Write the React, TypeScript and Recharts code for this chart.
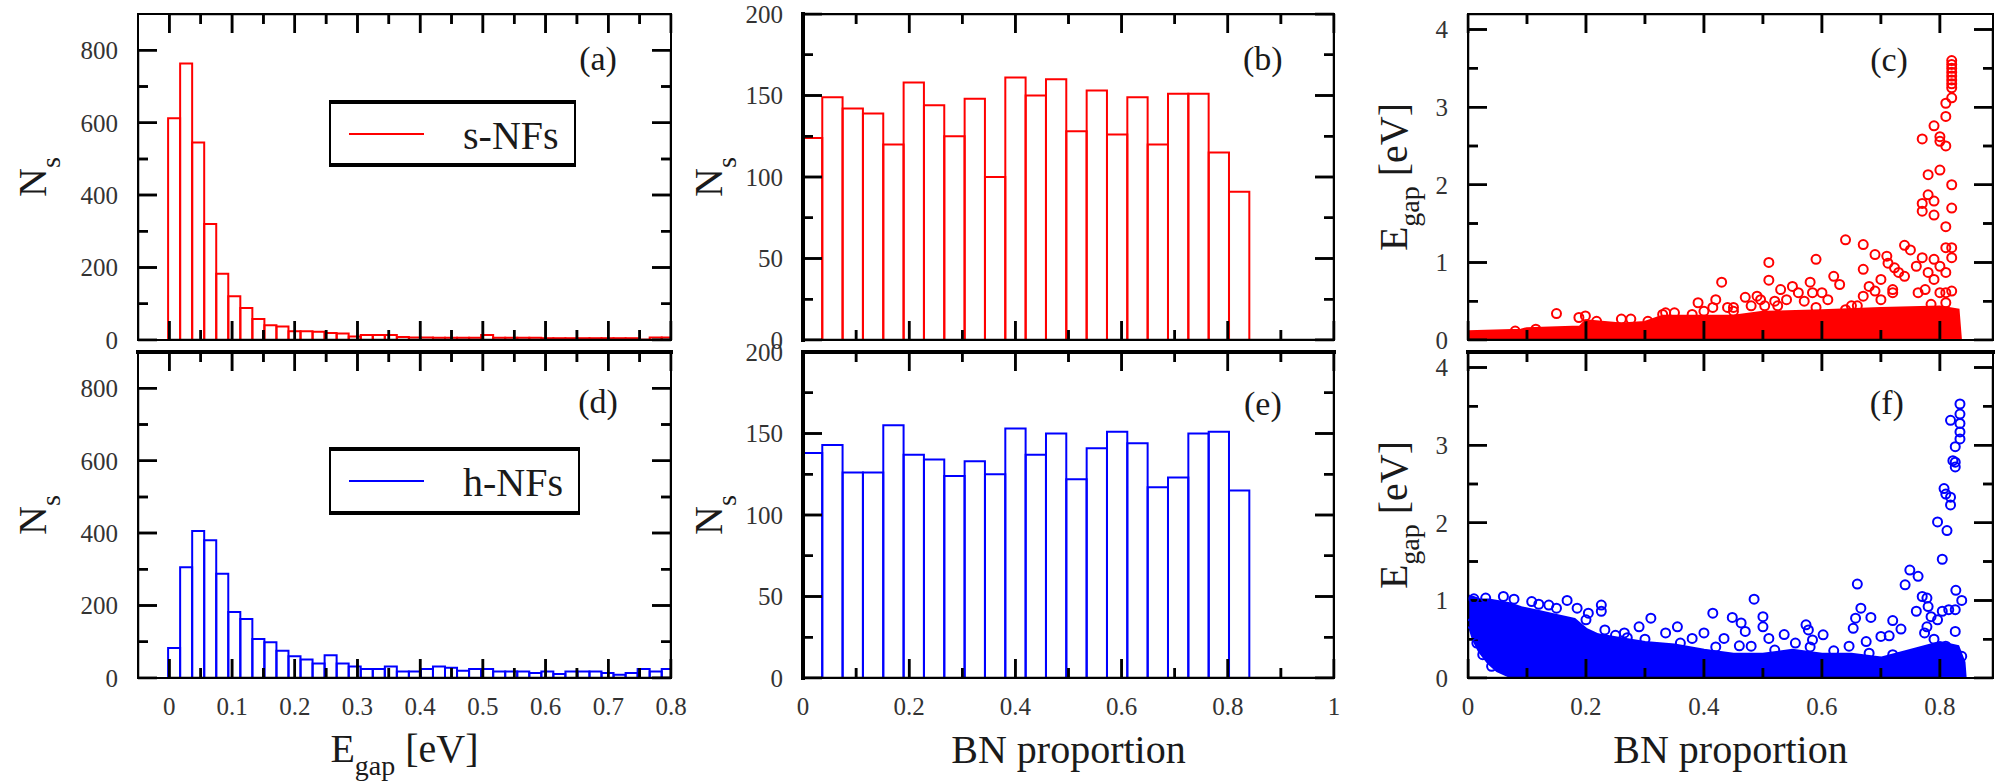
import React from 'react';
import { ComposedChart, Bar, Scatter, Area, Line, XAxis, YAxis, ReferenceDot, Legend } from 'recharts';

const FONT = 'Liberation Serif, DejaVu Serif, serif';
const RED = '#ff0000';
const BLUE = '#0000ff';
const INK = '#1a1a1a';

// ---------------- data ----------------
// (a)/(d) histograms of E_gap
const GAP_BIN_START = -0.002;
const GAP_BIN_WIDTH = 0.0192;
const GAP_COUNTS_S = [612, 763, 545, 320, 183, 121, 88, 58, 41, 37, 24, 24, 23, 19, 18, 10, 14, 14, 14, 8, 7, 7, 6, 6, 6, 6, 14, 6, 6, 6, 6, 5, 5, 5, 5, 5, 5, 5, 5, 1, 7, 7];
const GAP_COUNTS_H = [83, 306, 406, 380, 288, 182, 163, 108, 99, 75, 60, 51, 40, 63, 40, 32, 25, 25, 32, 18, 18, 25, 32, 28, 20, 25, 25, 18, 18, 18, 14, 18, 11, 18, 18, 18, 14, 9, 14, 25, 18, 25];

// (b)/(e) histograms of BN proportion
const BN_BIN_START = -0.002;
const BN_BIN_WIDTH = 0.0383;
const BN_COUNTS_S = [124, 149, 142, 139, 120, 158, 144, 125, 148, 100, 161, 150, 160, 128, 153, 126, 149, 120, 151, 151, 115, 91];
const BN_COUNTS_H = [138, 143, 126, 126, 155, 137, 134, 124, 133, 125, 153, 137, 150, 122, 141, 151, 144, 117, 123, 150, 151, 115];

// (c) s-NFs scatter: dense band (upper edge) + individual points
const BAND_C_X = [0, 0.09, 0.1, 0.19, 0.2, 0.26, 0.3, 0.33, 0.45, 0.5, 0.6, 0.7, 0.8, 0.83, 0.834];
const BAND_C_HI = [0.1, 0.12, 0.14, 0.16, 0.24, 0.2, 0.22, 0.3, 0.3, 0.35, 0.37, 0.4, 0.42, 0.38, 0];
const POINTS_C: [number, number][] = [
  [0.15, 0.34], [0.199, 0.31], [0.26, 0.27], [0.335, 0.35], [0.39, 0.48], [0.42, 0.52], [0.43, 0.745], [0.45, 0.42],
  [0.47, 0.55], [0.49, 0.565], [0.51, 1.0], [0.51, 0.77], [0.525, 0.44], [0.54, 0.52], [0.55, 0.69], [0.56, 0.61],
  [0.58, 0.745], [0.584, 0.61], [0.59, 1.04], [0.6, 0.61], [0.62, 0.82], [0.63, 0.715], [0.64, 1.29], [0.65, 0.44],
  [0.67, 1.23], [0.67, 0.91], [0.69, 1.1], [0.7, 0.78], [0.69, 0.63], [0.71, 1.08], [0.712, 0.99], [0.723, 0.93],
  [0.7, 0.52], [0.73, 0.87], [0.74, 1.22], [0.75, 1.16], [0.74, 0.82], [0.76, 0.95], [0.77, 2.59], [0.77, 1.76],
  [0.77, 1.66], [0.77, 1.06], [0.763, 0.61], [0.78, 2.13], [0.78, 1.87], [0.78, 0.87], [0.79, 2.76], [0.79, 1.79],
  [0.79, 1.61], [0.79, 0.78], [0.8, 2.62], [0.8, 2.19], [0.8, 2.56], [0.81, 2.5], [0.81, 2.88], [0.81, 3.05],
  [0.81, 1.46], [0.81, 1.19], [0.8, 0.95], [0.81, 0.61], [0.81, 0.87], [0.82, 3.6], [0.82, 3.55], [0.82, 3.5],
  [0.82, 3.45], [0.82, 3.4], [0.82, 3.35], [0.82, 3.3], [0.82, 3.25], [0.82, 3.12], [0.82, 2.0], [0.82, 1.7],
  [0.82, 1.19], [0.82, 1.06], [0.82, 0.63], [0.785, 0.46], [0.775, 0.65], [0.79, 1.04], [0.8, 0.61], [0.81, 0.48],
  [0.72, 0.61], [0.72, 0.65], [0.68, 0.69], [0.67, 0.565], [0.66, 0.44], [0.64, 0.39], [0.61, 0.52], [0.59, 0.42],
  [0.57, 0.5], [0.53, 0.65], [0.52, 0.5], [0.503, 0.44], [0.496, 0.52], [0.48, 0.44], [0.45, 0.37], [0.44, 0.42],
  [0.415, 0.42], [0.4, 0.37], [0.38, 0.33], [0.35, 0.35], [0.33, 0.33], [0.305, 0.24], [0.276, 0.27], [0.218, 0.24],
  [0.188, 0.29], [0.115, 0.14], [0.08, 0.115],
];

// (f) h-NFs scatter: dense band (lower / upper edges) + individual points
const BAND_F_X = [0, 0.01, 0.02, 0.035, 0.05, 0.07, 0.09, 0.12, 0.15, 0.18, 0.2, 0.22, 0.26, 0.3, 0.35, 0.4, 0.45, 0.5, 0.55, 0.6, 0.65, 0.7, 0.75, 0.8, 0.83, 0.84, 0.842];
const BAND_F_LO = [0.75, 0.5, 0.35, 0.2, 0.1, 0.03, 0, 0, 0, 0, 0, 0, 0, 0, 0, 0, 0, 0, 0, 0, 0, 0, 0, 0, 0, 0, 0];
const BAND_F_HI = [1.05, 1.03, 1.0, 1.0, 0.98, 0.95, 0.9, 0.85, 0.8, 0.75, 0.62, 0.55, 0.5, 0.45, 0.42, 0.35, 0.3, 0.3, 0.35, 0.3, 0.3, 0.25, 0.35, 0.45, 0.4, 0.2, 0];
const POINTS_F: [number, number][] = [
  [0.485, 1.015], [0.415, 0.835], [0.448, 0.78], [0.463, 0.71], [0.47, 0.6], [0.5, 0.79], [0.5, 0.66], [0.51, 0.51],
  [0.48, 0.41], [0.46, 0.415], [0.434, 0.51], [0.4, 0.58], [0.38, 0.51], [0.355, 0.66], [0.335, 0.58], [0.31, 0.77],
  [0.29, 0.66], [0.265, 0.58], [0.232, 0.62], [0.226, 0.94], [0.226, 0.86], [0.204, 0.835], [0.185, 0.9], [0.168, 1.0],
  [0.137, 0.94], [0.108, 0.985], [0.078, 1.015], [0.06, 1.05], [0.536, 0.56], [0.555, 0.45], [0.573, 0.685], [0.577, 0.62],
  [0.602, 0.556], [0.584, 0.49], [0.653, 0.64], [0.66, 1.21], [0.666, 0.9], [0.657, 0.77], [0.675, 0.47], [0.683, 0.78],
  [0.646, 0.41], [0.7, 0.535], [0.714, 0.544], [0.72, 0.74], [0.734, 0.63], [0.741, 1.2], [0.749, 1.39], [0.763, 1.31],
  [0.76, 0.86], [0.77, 1.05], [0.778, 1.03], [0.778, 0.66], [0.78, 0.92], [0.785, 0.79], [0.774, 0.58], [0.796, 2.01],
  [0.804, 1.53], [0.807, 2.44], [0.81, 2.37], [0.812, 1.9], [0.818, 2.33], [0.818, 2.23], [0.818, 3.32], [0.826, 2.78],
  [0.826, 2.98], [0.822, 2.8], [0.826, 2.72], [0.834, 3.53], [0.834, 3.4], [0.834, 3.28], [0.834, 3.17], [0.834, 3.08],
  [0.827, 1.13], [0.837, 1.0], [0.826, 0.88], [0.815, 0.88], [0.804, 0.86], [0.796, 0.75], [0.826, 0.6], [0.81, 0.41],
  [0.837, 0.28], [0.807, 0.32], [0.01, 1.02], [0.03, 1.03], [0.12, 0.95], [0.15, 0.9], [0.2, 0.75], [0.25, 0.55],
  [0.3, 0.5], [0.27, 0.52], [0.36, 0.45], [0.42, 0.4], [0.52, 0.36], [0.58, 0.4], [0.62, 0.35], [0.68, 0.32],
  [0.72, 0.3], [0.79, 0.5], [0.005, 0.7], [0.015, 0.45], [0.025, 0.3], [0.04, 0.15],
];

// ticks (major / minor)
const GAP_X_MAJOR = [0, 0.1, 0.2, 0.3, 0.4, 0.5, 0.6, 0.7, 0.8];
const GAP_X_MINOR = [0.05, 0.15, 0.25, 0.35, 0.45, 0.55, 0.65, 0.75];
const GAP_Y_MAJOR = [0, 200, 400, 600, 800];
const GAP_Y_MINOR = [100, 300, 500, 700];
const BN_X_MAJOR = [0, 0.2, 0.4, 0.6, 0.8, 1];
const BN_X_MINOR = [0.1, 0.3, 0.5, 0.7, 0.9];
const BN_Y_MAJOR = [0, 50, 100, 150, 200];
const BN_Y_MINOR = [25, 75, 125, 175];
const SC_X_MAJOR = [0, 0.2, 0.4, 0.6, 0.8];
const SC_X_MINOR = [0.1, 0.3, 0.5, 0.7];
const SC_Y_MAJOR = [0, 1, 2, 3, 4];
const SC_Y_MINOR = [0.5, 1.5, 2.5, 3.5];

// ---------------- tables ----------------
const histRows = (start: number, w: number, counts: number[]) =>
  counts.map((n, i) => ({ x: start + (i + 0.5) * w, y: n }));
const pointRows = (pts: [number, number][]) => pts.map(([x, y]) => ({ x, y }));
const bandC = BAND_C_X.map((x, i) => ({ x, y: BAND_C_HI[i] }));
const bandF = BAND_F_X.map((x, i) => ({ x, r: [BAND_F_LO[i], BAND_F_HI[i]] }));

// ---------------- helpers ----------------
const fmt = (v: number) => String(Math.round(v * 1000) / 1000);
const blank = () => '';

const LEFT_W = 138;
const TOP_H = 14;
const MAJOR_LEN = 19;
const MINOR_LEN = 10;

interface Frame {
  L: number; T: number; R: number; B: number; bottomH: number; rightW: number;
  xDomain: [number, number]; yDomain: [number, number];
  xMajor: number[]; xMinor: number[]; yMajor: number[]; yMinor: number[];
  xLabels: boolean; leftStroke: number; topStroke: number;
  xTitle?: (vb: any) => React.ReactNode; yTitle?: (vb: any) => React.ReactNode;
}

const TICK_FONT = { fontFamily: FONT, fontSize: 25, fill: '#333' };
const HIDDEN_TICK = { fontSize: 1, fill: 'none' };

// tick marks drawn along each axis (as paths) from the axis box and domain
type Side = 'bottom' | 'top' | 'left' | 'right';
function axisTickPaths(f: Frame, side: Side, vb: any) {
  const horiz = side === 'bottom' || side === 'top';
  const [d0, d1] = horiz ? f.xDomain : f.yDomain;
  const major = horiz ? f.xMajor : f.yMajor;
  const minor = horiz ? f.xMinor : f.yMinor;
  const items = [...major.map((v) => [v, MAJOR_LEN]), ...minor.map((v) => [v, MINOR_LEN])];
  let d = '';
  items.forEach(([v, len]) => {
    const t = (v - d0) / (d1 - d0);
    if (side === 'bottom') { const px = vb.x + t * vb.width; d += `M${px},${vb.y}V${vb.y - len}`; }
    if (side === 'top') { const px = vb.x + t * vb.width; const y = vb.y + vb.height; d += `M${px},${y}V${y + len}`; }
    if (side === 'left') { const py = vb.y + vb.height - t * vb.height; const x = vb.x + vb.width; d += `M${x},${py}H${x + len}`; }
    if (side === 'right') { const py = vb.y + vb.height - t * vb.height; d += `M${vb.x},${py}H${vb.x - len}`; }
  });
  return <path d={d} stroke="#000" strokeWidth={2.5} fill="none" />;
}

const axisDecor = (f: Frame, side: Side, title?: (vb: any) => React.ReactNode) => (p: any) => (
  <g>
    {axisTickPaths(f, side, p.viewBox)}
    {title ? title(p.viewBox) : null}
  </g>
);

function axes(f: Frame) {
  const frame = (w: number) => ({ stroke: '#000', strokeWidth: w, strokeLinecap: 'square' as const });
  return [
    <XAxis key="xb" xAxisId="xb" dataKey="x" type="number" domain={f.xDomain} allowDataOverflow ticks={f.xMajor}
      interval={0} height={1} tickSize={-MAJOR_LEN} tickMargin={38} tickLine={false} axisLine={frame(2)}
      tick={f.xLabels ? TICK_FONT : HIDDEN_TICK} tickFormatter={f.xLabels ? fmt : blank} label={axisDecor(f, 'bottom', f.xTitle)} />,
    <XAxis key="xt" xAxisId="xt" orientation="top" dataKey="x" type="number" domain={f.xDomain} allowDataOverflow
      ticks={f.xMajor} interval={0} height={1} tickLine={false} axisLine={frame(f.topStroke)} tick={HIDDEN_TICK}
      tickFormatter={blank} label={axisDecor(f, 'top')} />,
    <YAxis key="yl" yAxisId="yl" type="number" domain={f.yDomain} allowDataOverflow ticks={f.yMajor}
      interval={0} width={1} tickSize={-MAJOR_LEN} tickMargin={39} tickLine={false} axisLine={frame(f.leftStroke)}
      tick={TICK_FONT} tickFormatter={fmt} label={axisDecor(f, 'left', f.yTitle)} />,
    <YAxis key="yr" yAxisId="yr" orientation="right" type="number" domain={f.yDomain} allowDataOverflow
      ticks={f.yMajor} interval={0} width={1} tickLine={false} axisLine={frame(2)} tick={HIDDEN_TICK}
      tickFormatter={blank} label={axisDecor(f, 'right')} />,
  ];
}

// tick marks as four "comb" line series: each runs along one side of the frame with inward spikes
function combs(f: Frame, xAxisId: string) {
  const [x0, x1] = f.xDomain;
  const [y0, y1] = f.yDomain;
  const xPerPx = (x1 - x0) / (f.R - f.L);
  const yPerPx = (y1 - y0) / (f.B - f.T);
  const xs = [...f.xMajor.map((v) => [v, MAJOR_LEN]), ...f.xMinor.map((v) => [v, MINOR_LEN])].sort((a, b) => a[0] - b[0]);
  const ys = [...f.yMajor.map((v) => [v, MAJOR_LEN]), ...f.yMinor.map((v) => [v, MINOR_LEN])].sort((a, b) => a[0] - b[0]);
  const bottom: { x: number; y: number }[] = [];
  const top: { x: number; y: number }[] = [];
  const left: { x: number; y: number }[] = [];
  const right: { x: number; y: number }[] = [];
  xs.forEach(([v, len]) => {
    bottom.push({ x: v, y: y0 }, { x: v, y: y0 + len * yPerPx }, { x: v, y: y0 });
    top.push({ x: v, y: y1 }, { x: v, y: y1 - len * yPerPx }, { x: v, y: y1 });
  });
  ys.forEach(([v, len]) => {
    left.push({ x: x0, y: v }, { x: x0 + len * xPerPx, y: v }, { x: x0, y: v });
    right.push({ x: x1, y: v }, { x: x1 - len * xPerPx, y: v }, { x: x1, y: v });
  });
  return [bottom, top, left, right].map((data, i) => (
    <Line key={`comb${i}`} xAxisId={xAxisId} yAxisId="yl" data={data} dataKey="y" type="linear" stroke="#000"
      strokeWidth={2.5} dot={false} activeDot={false} legendType="none" isAnimationActive={false} />
  ));
}

const chartBox = (f: Frame) => ({
  left: f.L - LEFT_W,
  top: f.T - TOP_H,
  width: f.R - f.L + LEFT_W + f.rightW,
  height: f.B - f.T + TOP_H + f.bottomH,
  margin: { left: LEFT_W - 1, top: TOP_H - 1, right: f.rightW - 1, bottom: f.bottomH - 1 },
});

// y titles: dx = distance from plot's left edge to the text baseline
const nsTitle = (dx: number) => (vb: any) => {
  const x = vb.x + vb.width - dx;
  const cy = vb.y + vb.height / 2;
  return (
    <text x={x} y={cy} transform={`rotate(-90 ${x} ${cy})`} textAnchor="middle" fontFamily={FONT} fontSize={40} fill={INK}>
      N<tspan fontSize={28} dy={14}>s</tspan>
    </text>
  );
};

const egapTitleY = (dx: number) => (vb: any) => {
  const x = vb.x + vb.width - dx;
  const cy = vb.y + vb.height / 2;
  return (
    <text x={x} y={cy} transform={`rotate(-90 ${x} ${cy})`} textAnchor="middle" fontFamily={FONT} fontSize={40} fill={INK}>
      E<tspan fontSize={28} dy={12}>gap</tspan>
      <tspan fontSize={40} dy={-12}> [eV]</tspan>
    </text>
  );
};

const egapTitleX = (vb: any) => (
  <text x={vb.x + vb.width / 2} y={vb.y + 84} textAnchor="middle" fontFamily={FONT} fontSize={40} fill={INK}>
    E<tspan fontSize={28} dy={13}>gap</tspan>
    <tspan fontSize={40} dy={-13}> [eV]</tspan>
  </text>
);

const bnTitleX = (vb: any) => (
  <text x={vb.x + vb.width / 2} y={vb.y + 85} textAnchor="middle" fontFamily={FONT} fontSize={40} fill={INK}>
    BN proportion
  </text>
);

const legendBox = (label: string, color: string, w: number, h: number) => () => (
  <div style={{ width: w, height: h, boxSizing: 'border-box', borderStyle: 'solid', borderColor: '#000', borderWidth: '4px 2px 4px 2px', background: '#fff' }}>
    <svg width={w - 4} height={h - 8} style={{ display: 'block' }}>
      <line x1={18} x2={93} y1={30} y2={30} stroke={color} strokeWidth={2} />
      <text x={132} y={45} fontFamily={FONT} fontSize={40} fill={INK}>{label}</text>
    </svg>
  </div>
);

const panelLabel = (x: number, y: number, text: string) => (
  <ReferenceDot xAxisId="xb" yAxisId="yl" x={x} y={y} r={0} fill="none" stroke="none" ifOverflow="visible"
    label={{ value: text, position: 'center', fontFamily: FONT, fontSize: 34, fill: INK }} />
);

const circleShape = (color: string) => (p: any) => (
  <circle cx={p.cx} cy={p.cy} r={4.5} fill="none" stroke={color} strokeWidth={2} />
);

// ---------------- frames ----------------
const ROW1 = { T: 14, B: 340, bottomH: 30, topStroke: 2 };
const ROW2 = { T: 352, B: 678, bottomH: 105, topStroke: 4 };

const gapBase = { L: 138, R: 671, rightW: 30, xDomain: [-0.05, 0.8] as [number, number], yDomain: [0, 900] as [number, number], xMajor: GAP_X_MAJOR, xMinor: GAP_X_MINOR, yMajor: GAP_Y_MAJOR, yMinor: GAP_Y_MINOR, leftStroke: 2 };
const bnBase = { L: 803, R: 1334, rightW: 30, xDomain: [0, 1] as [number, number], yDomain: [0, 200] as [number, number], xMajor: BN_X_MAJOR, xMinor: BN_X_MINOR, yMajor: BN_Y_MAJOR, yMinor: BN_Y_MINOR, leftStroke: 4 };
const scBase = { L: 1468, R: 1993, rightW: 5, xDomain: [0, 0.89] as [number, number], yDomain: [0, 4.2] as [number, number], xMajor: SC_X_MAJOR, xMinor: SC_X_MINOR, yMajor: SC_Y_MAJOR, yMinor: SC_Y_MINOR, leftStroke: 2 };

const FA: Frame = { ...gapBase, ...ROW1, xLabels: false, yTitle: nsTitle(92) };
const FD: Frame = { ...gapBase, ...ROW2, xLabels: true, yTitle: nsTitle(92), xTitle: egapTitleX };
const FB: Frame = { ...bnBase, ...ROW1, xLabels: false, yTitle: nsTitle(81) };
const FE: Frame = { ...bnBase, ...ROW2, xLabels: true, yTitle: nsTitle(81), xTitle: bnTitleX };
const FC: Frame = { ...scBase, ...ROW1, xLabels: false, yTitle: egapTitleY(61) };
const FF: Frame = { ...scBase, ...ROW2, xLabels: true, yTitle: egapTitleY(61), xTitle: bnTitleX };

const barPx = (f: Frame, w: number) => ((w / (f.xDomain[1] - f.xDomain[0])) * (f.R - f.L)) * 0.998;

function HistPanel({ f, rows, color, binW, label, lx, ly, legend }: any) {
  const box = chartBox(f);
  return (
    <div style={{ position: 'absolute', left: box.left, top: box.top }}>
      <ComposedChart width={box.width} height={box.height} margin={box.margin} data={rows}>
        <Bar xAxisId="xb" yAxisId="yl" dataKey="y" barSize={barPx(f, binW)} fill="none" stroke={color} strokeWidth={2} isAnimationActive={false} />
        {combs(f, 'xt')}
        {legend}
        {panelLabel(lx, ly, label)}
        {axes(f)}
      </ComposedChart>
    </div>
  );
}

function ScatterPanel({ f, points, color, band, banded, label, lx, ly }: any) {
  const box = chartBox(f);
  return (
    <div style={{ position: 'absolute', left: box.left, top: box.top }}>
      <ComposedChart width={box.width} height={box.height} margin={box.margin}>
        <Area xAxisId="xb" yAxisId="yl" data={band} dataKey={banded ? 'r' : 'y'} type="linear" stroke={color} strokeWidth={4} fill={color} fillOpacity={1}
          dot={false} activeDot={false} isAnimationActive={false} />
        <Scatter xAxisId="xb" yAxisId="yl" data={points} dataKey="y" fill="none" shape={circleShape(color)} isAnimationActive={false} />
        {combs(f, 'xb')}
        {panelLabel(lx, ly, label)}
        {axes(f)}
      </ComposedChart>
    </div>
  );
}

export default function App() {
  return (
    <div style={{ position: 'absolute', left: 0, top: 0, width: 1998, height: 783, background: '#fff', overflow: 'hidden', fontFamily: FONT }}>
      <HistPanel f={FA} rows={histRows(GAP_BIN_START, GAP_BIN_WIDTH, GAP_COUNTS_S)} color={RED} binW={GAP_BIN_WIDTH}
        label="(a)" lx={0.6836} ly={778}
        legend={<Legend layout="horizontal" verticalAlign="middle" align="center"
          wrapperStyle={{ left: 329, top: 100, width: 247, height: 67 }} content={legendBox('s-NFs', RED, 247, 67)} />} />
      <HistPanel f={FD} rows={histRows(GAP_BIN_START, GAP_BIN_WIDTH, GAP_COUNTS_H)} color={BLUE} binW={GAP_BIN_WIDTH}
        label="(d)" lx={0.6836} ly={765}
        legend={<Legend layout="horizontal" verticalAlign="middle" align="center"
          wrapperStyle={{ left: 329, top: 109, width: 251, height: 68 }} content={legendBox('h-NFs', BLUE, 251, 68)} />} />
      <HistPanel f={FB} rows={histRows(BN_BIN_START, BN_BIN_WIDTH, BN_COUNTS_S)} color={RED} binW={BN_BIN_WIDTH}
        label="(b)" lx={0.866} ly={173} legend={null} />
      <HistPanel f={FE} rows={histRows(BN_BIN_START, BN_BIN_WIDTH, BN_COUNTS_H)} color={BLUE} binW={BN_BIN_WIDTH}
        label="(e)" lx={0.866} ly={169} legend={null} />
      <ScatterPanel f={FC} points={pointRows(POINTS_C)} color={RED} band={bandC} banded={false}
        label="(c)" lx={0.7137} ly={3.62} />
      <ScatterPanel f={FF} points={pointRows(POINTS_F)} color={BLUE} band={bandF} banded={true}
        label="(f)" lx={0.71} ly={3.556} />
    </div>
  );
}
